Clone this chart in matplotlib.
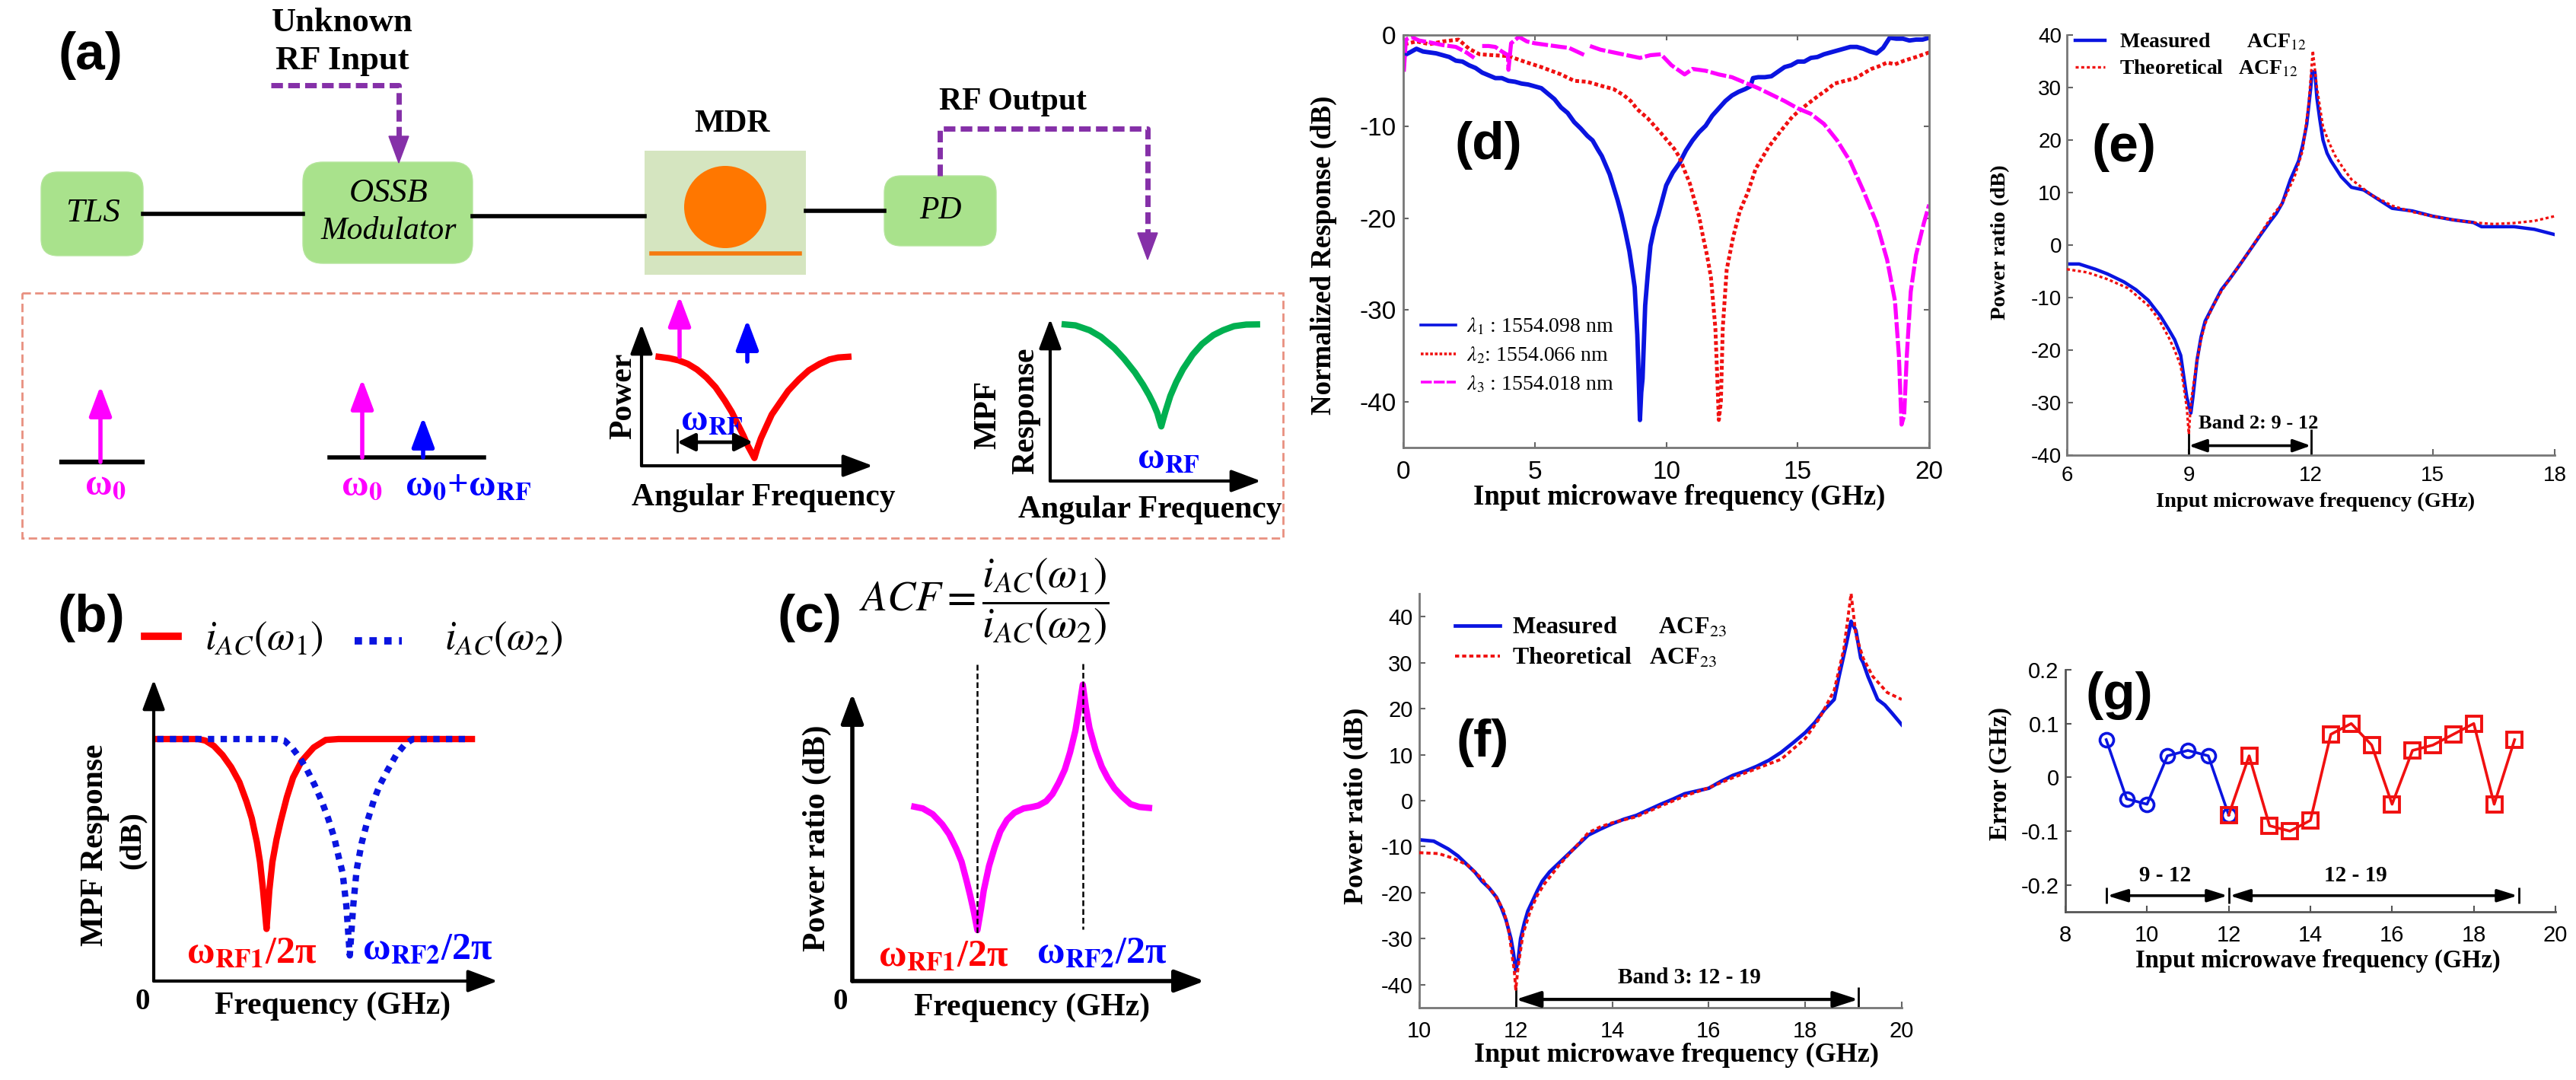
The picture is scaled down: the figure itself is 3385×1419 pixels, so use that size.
#!/usr/bin/python3
import numpy as np
import matplotlib
matplotlib.use('Agg')
import matplotlib.pyplot as plt
from matplotlib.patches import FancyBboxPatch, FancyArrowPatch, Rectangle, Circle, Polygon

plt.rcParams['axes.unicode_minus'] = False
plt.rcParams['mathtext.fontset'] = 'stix'
plt.rcParams['font.family'] = ['Liberation Serif', 'DejaVu Sans']

W, H = 3385, 1419
SANS = 'Liberation Sans'
SERIF = 'Liberation Serif'

# (d) normalized response
d1_x = [0.05, 0.25, 0.5, 0.75, 1, 1.25, 1.5, 1.75, 2, 2.25, 2.5, 2.75, 3, 3.25, 3.5, 3.75, 4, 4.25, 4.5, 4.75, 5, 5.25, 5.5, 5.75, 6, 6.25, 6.5, 6.75, 7, 7.2, 7.4, 7.55, 7.7, 7.85, 8, 8.15, 8.3, 8.45, 8.6, 8.7, 8.8, 8.9, 8.95, 9.0, 9.05, 9.1, 9.2, 9.3, 9.4, 9.55, 9.7, 9.85, 10, 10.25, 10.5, 10.75, 11, 11.25, 11.5, 11.75, 12, 12.25, 12.5, 12.75, 13, 13.2, 13.3, 13.5, 13.75, 14, 14.25, 14.5, 14.75, 15, 15.25, 15.5, 15.75, 16, 16.25, 16.5, 16.75, 17, 17.25, 17.5, 17.75, 18, 18.25, 18.5, 18.75, 19, 19.25, 19.5, 19.75, 20]
d1_y = [-2.2, -1.9, -1.5, -1.8, -1.9, -2.0, -2.2, -2.4, -2.8, -2.9, -3.3, -3.6, -4.1, -4.4, -4.7, -4.7, -5.0, -5.1, -5.3, -5.4, -5.6, -5.8, -6.4, -7.0, -7.9, -8.5, -9.5, -10.2, -11, -11.5, -12.5, -13.2, -14.2, -15.2, -16.6, -18, -19.6, -21.5, -23.6, -25.5, -27.5, -32.7, -37, -42, -39, -37.5, -29.5, -26, -23, -21, -19.6, -18, -16.4, -15, -14, -12.6, -11.5, -10.6, -9.9, -8.8, -8, -7.2, -6.6, -6.2, -5.9, -5.6, -4.7, -4.6, -4.6, -4.5, -4.0, -3.5, -3.3, -2.9, -2.9, -2.5, -2.4, -2.1, -1.9, -1.7, -1.5, -1.3, -1.3, -1.5, -1.8, -2, -1.4, -0.3, -0.4, -0.4, -0.6, -0.5, -0.5, -0.3]
d2_x = [0.05, 0.5, 1, 1.5, 2.1, 2.5, 2.9, 3.4, 4, 4.6, 5.25, 6, 6.5, 7, 7.6, 8, 8.4, 8.65, 8.9, 9.3, 9.8, 10.3, 10.5, 10.7, 10.9, 11.05, 11.25, 11.4, 11.55, 11.7, 11.87, 11.95, 12, 12.08, 12.15, 12.3, 12.55, 12.8, 13.1, 13.4, 13.9, 14.35, 14.8, 15.3, 15.8, 16.1, 16.4, 16.8, 17.2, 17.5, 17.8, 18.1, 18.4, 18.7, 19.05, 19.5, 20]
d2_y = [-1, -0.7, -1.0, -0.7, -0.5, -1.5, -2.1, -2.2, -2.3, -2.9, -3.5, -4.3, -5, -5.1, -5.6, -5.9, -6.6, -7.2, -8.1, -9.1, -10.7, -12.4, -13.3, -14.8, -16.2, -17.8, -19.8, -22, -24, -26.4, -32, -38, -42, -40, -32, -25.6, -22, -19.2, -17.2, -14.6, -12.2, -10.5, -8.9, -7.7, -6.6, -6, -5.3, -5.0, -4.7, -4.2, -3.7, -3.4, -3, -3.2, -2.8, -2.4, -1.9]
d3_x = [0.02, 0.1, 0.3, 0.6, 1, 1.5, 2, 2.4, 2.7, 2.9, 3, 3.25, 3.5, 3.75, 3.98, 4.0, 4.1, 4.4, 4.7, 5, 5.5, 6, 6.3, 6.6, 6.9, 7.0, 7.1, 7.5, 8, 8.5, 9, 9.4, 9.8, 10.2, 10.7, 11, 11.5, 12, 12.5, 13, 13.5, 14, 14.5, 15, 15.5, 16, 16.5, 17, 17.5, 18, 18.4, 18.7, 18.85, 18.95, 19.05, 19.15, 19.3, 19.5, 19.8, 20]
d3_y = [-4, -0.5, -0.2, -0.6, -0.8, -1.1, -1.3, -1.9, -2.5, np.nan, -1.2, -1.2, -1.3, -1.8, -2.2, -3.8, -0.9, -0.2, -0.7, -0.9, -1.1, -1.3, -1.4, -1.8, -2.2, np.nan, -1.2, -1.6, -1.9, -2.2, -2.5, -2.2, -2.1, -3.3, -4.3, -3.7, -3.9, -4.3, -4.6, -5.2, -5.8, -6.5, -7.2, -8, -8.6, -9.7, -11.5, -13.8, -17, -20.5, -24.5, -29, -35, -42.5, -41.5, -35, -28, -24, -20.5, -18.5]
d_names = [r'$\lambda_1$ : 1554.098 nm', r'$\lambda_2$: 1554.066 nm', r'$\lambda_3$ : 1554.018 nm']

# (e) ACF12
e_mx = [6, 6.3, 6.7, 7, 7.4, 7.7, 8, 8.3, 8.5, 8.65, 8.8, 8.95, 9.05, 9.1, 9.2, 9.3, 9.4, 9.6, 9.8, 10, 10.25, 10.5, 10.75, 11, 11.15, 11.3, 11.5, 11.7, 11.8, 11.9, 12.0, 12.03, 12.1, 12.15, 12.22, 12.3, 12.4, 12.5, 12.75, 13, 13.3, 13.6, 14, 14.5, 15, 15.5, 16, 16.2, 17, 17.5, 18]
e_my = [-3.6, -3.6, -4.6, -5.5, -7, -8.5, -10.5, -13.5, -16, -18, -21, -29, -32, -29, -22, -17.5, -14.5, -11.5, -8.5, -6.5, -3.8, -1, 1.8, 4.5, 6, 8, 12.5, 16, 19, 23, 30, 33, 33, 28, 24, 20, 17.5, 16, 13, 11, 10.5, 9, 7, 6.5, 5.5, 4.8, 4.3, 3.5, 3.5, 3, 2]
e_tx = [6, 6.5, 7, 7.5, 8, 8.25, 8.5, 8.65, 8.8, 8.95, 9, 9.05, 9.2, 9.3, 9.4, 9.6, 9.8, 10, 10.5, 11, 11.3, 11.6, 11.8, 11.95, 12.05, 12.15, 12.3, 12.45, 12.6, 12.8, 13, 13.5, 14, 14.5, 15, 15.5, 16, 16.5, 17, 17.5, 18]
e_ty = [-4.6, -5.2, -6.5, -8.2, -11.5, -14, -17.5, -20, -23, -31, -36, -30, -22, -18, -15, -11.5, -8.8, -6.5, -1, 5, 8, 13, 18, 27, 37, 30, 22.5, 19.5, 17, 14.6, 12.5, 9.5, 7.5, 6.3, 5.5, 4.8, 4.3, 4, 4.2, 4.6, 5.5]

# (f) ACF23
f_mx = [10, 10.3, 10.6, 10.8, 11, 11.15, 11.3, 11.45, 11.6, 11.7, 11.8, 11.9, 11.95, 12, 12.05, 12.1, 12.18, 12.25, 12.45, 12.55, 12.7, 13, 13.25, 13.5, 13.75, 14, 14.25, 14.5, 14.75, 15, 15.25, 15.5, 15.75, 16, 16.25, 16.5, 16.75, 17, 17.25, 17.5, 17.75, 18, 18.2, 18.4, 18.6, 18.7, 18.85, 18.95, 19.05, 19.15, 19.2, 19.3, 19.5, 19.65, 19.8, 20]
f_my = [-8.5, -8.8, -10.5, -12, -14, -15.5, -17.5, -19, -21, -23.2, -26, -30, -33, -37, -34.5, -30, -26.5, -24, -19.5, -17.5, -15.5, -12.5, -10, -7.5, -6.2, -5, -4, -3.2, -2, -0.8, 0.3, 1.5, 2.1, 2.7, 4.2, 5.5, 6.4, 7.5, 8.8, 10.5, 12.6, 14.8, 17, 19.8, 22, 27, 34, 39, 37, 31, 30, 27, 22, 20.8, 19, 16.5]
f_tx = [10, 10.4, 10.7, 11, 11.3, 11.6, 11.75, 11.85, 11.97, 12.0, 12.05, 12.15, 12.3, 12.45, 12.6, 12.9, 13.2, 13.5, 13.75, 14, 14.5, 15, 15.5, 16, 16.5, 17, 17.5, 18, 18.3, 18.6, 18.8, 18.95, 19.05, 19.2, 19.4, 19.7, 20]
f_ty = [-11.3, -11.5, -12.5, -14, -17, -21, -24, -28, -37, -41, -36, -29, -24, -20.5, -18, -14, -10.5, -7, -5.7, -4.8, -3.5, -1.2, 1, 2.8, 5, 7, 9, 13.5, 18, 24, 33, 45, 36, 31, 27, 23.5, 22]

# (g) error
g_x1 = [9, 9.5, 10, 10.5, 11, 11.5, 12]
g_y1 = [0.07, -0.04, -0.05, 0.04, 0.05, 0.04, -0.07]
g_x2 = [12, 12.5, 13, 13.5, 14, 14.5, 15, 15.5, 16, 16.5, 17, 17.5, 18, 18.5, 19]
g_y2 = [-0.07, 0.04, -0.09, -0.1, -0.08, 0.08, 0.1, 0.06, -0.05, 0.05, 0.06, 0.08, 0.1, -0.05, 0.07]
g_ticks = [-0.2, -0.1, 0, 0.1, 0.2]
g_ticklabels = ['-0.2', '-0.1', '0', '0.1', '0.2']

# sketches, arbitrary units on a 0-10 scale
b_red_x = [0, 1.29, 1.5, 1.75, 2, 2.25, 2.49, 2.7, 2.85, 3, 3.09, 3.18, 3.28, 3.36, 3.45, 3.57, 3.69, 3.87, 4.05, 4.3, 4.65, 5, 5.37, 9.25]
b_red_y = [8.03, 8.03, 7.98, 7.8, 7.5, 7.1, 6.6, 5.95, 5.4, 4.6, 3.95, 3, 1.73, 3, 3.95, 4.7, 5.3, 6.1, 6.75, 7.3, 7.75, 8, 8.03, 8.03]
b_blue_x = [0.1, 3.57, 3.8, 4.05, 4.25, 4.46, 4.68, 4.89, 5.07, 5.25, 5.38, 5.49, 5.6, 5.7, 5.8, 5.9, 6.05, 6.21, 6.4, 6.57, 6.8, 7.05, 7.3, 7.53, 9.2]
b_blue_y = [8.03, 8.03, 7.98, 7.7, 7.4, 7, 6.5, 5.95, 5.4, 4.75, 4.1, 3.6, 2.5, 0.85, 2.5, 3.7, 4.6, 5.3, 6, 6.5, 7, 7.5, 7.85, 8.03, 8.03]
c_x = [1.76, 2, 2.28, 2.55, 2.75, 2.95, 3.1, 3.25, 3.34, 3.45, 3.55, 3.65, 3.73, 3.88, 4.04, 4.2, 4.39, 4.6, 4.86, 5.1, 5.28, 5.5, 5.68, 5.86, 6.03, 6.18, 6.33, 6.44, 6.54, 6.63, 6.73, 6.9, 7.08, 7.25, 7.44, 7.65, 7.9, 8.15, 8.42]
c_y = [6.06, 6.0, 5.8, 5.45, 5.1, 4.6, 4.15, 3.45, 3, 2.4, 1.77, 2.5, 3.15, 4, 4.65, 5.2, 5.6, 5.85, 6.0, 6.05, 6.1, 6.25, 6.5, 6.9, 7.35, 7.95, 8.7, 9.5, 10.3, 9.5, 8.8, 8.05, 7.45, 7.05, 6.7, 6.42, 6.15, 6.05, 6.02]
pw_x = [0.74, 1.2, 1.6, 2, 2.4, 2.8, 3.2, 3.6, 3.9, 4.2, 4.4, 4.6, 4.75, 4.88, 5.0, 5.16, 5.4, 5.63, 6, 6.34, 6.8, 7.23, 7.7, 8.12, 8.5, 8.94]
pw_y = [7.7, 7.6, 7.45, 7.2, 6.8, 6.25, 5.55, 4.6, 3.8, 2.8, 2.15, 1.4, 0.95, 0.55, 1.2, 1.94, 2.8, 3.62, 4.5, 5.3, 6.1, 6.74, 7.2, 7.51, 7.65, 7.7]
mpf_x = [0.69, 1.2, 1.87, 2.4, 3.04, 3.5, 4.02, 4.4, 4.69, 4.9, 5.08, 5.18, 5.27, 5.36, 5.47, 5.7, 5.98, 6.3, 6.76, 7.2, 7.74, 8.2, 8.72, 9.3, 9.81]
mpf_y = [9.66, 9.6, 9.3, 8.9, 8.2, 7.55, 6.7, 5.95, 5.3, 4.75, 4.2, 3.75, 3.37, 3.8, 4.3, 5.25, 6.1, 6.9, 7.8, 8.45, 9.0, 9.3, 9.55, 9.65, 9.66]

GREEN = '#A9E28C'
PURPLE = '#8530A8'
MAGENTA = '#FF00FF'
BLUE = '#0A14E0'
RED = '#F01010'


def axes_px(l, t, r, b):
    return fig.add_axes([l / W, 1 - b / H, (r - l) / W, (b - t) / H])


def to_axes(ax, x, y):
    p = ax.get_position()
    return (x / W - p.x0) / p.width, ((1 - y / H) - p.y0) / p.height


def labels(ax, xlabel, xpos, ylabel, ypos, size, ysize=None):
    ax.set_xlabel(xlabel, fontsize=size, fontweight='bold', family=SERIF, va='center', ha='center')
    ax.xaxis.set_label_coords(*to_axes(ax, *xpos))
    ax.set_ylabel(ylabel, fontsize=ysize or size, fontweight='bold', family=SERIF, va='center', ha='center')
    ax.yaxis.set_label_coords(*to_axes(ax, *ypos))


def arrow(a, b, color='black', lw=3, hl=24, hw=9, style='-|>', z=5):
    ov.add_patch(FancyArrowPatch(a, b, arrowstyle='%s,head_length=%g,head_width=%g' % (style, hl, hw),
                                 mutation_scale=1, color=color, lw=lw, shrinkA=0, shrinkB=0, zorder=z))


def txt(x, y, s, size, color='black', weight='bold', style='normal', rot=0, family=SERIF):
    ov.text(x, y, s, fontsize=size, color=color, fontweight=weight, fontstyle=style, rotation=rot,
            family=family, ha='center', va='center')


def box(l, t, r, b, pad=22):
    ov.add_patch(FancyBboxPatch((l + pad, t + pad), r - l - 2 * pad, b - t - 2 * pad,
                                boxstyle='round,pad=%d,rounding_size=%d' % (pad, pad), fc=GREEN, ec='#B5E59C', lw=1))


def purple_path(xs, ys):
    ov.plot(xs, ys, color=PURPLE, lw=5, linestyle=(0, (2.2, 1.0)), dash_capstyle='butt', solid_joinstyle='miter')


def triangle(x, top, tip, half=13):
    ov.add_patch(Polygon([(x - half, top), (x + half, top), (x, tip)], color=PURPLE, zorder=4))


def sketch_axes(ax, lw=3.0, tip=(24, 9)):
    ax.set_xlim(0, 10)
    ax.set_ylim(0, 10)
    ax.axis('off')
    style = '-|>,head_length=%g,head_width=%g' % tip
    ax.annotate('', xy=(1, 0), xytext=(0, 0), xycoords='axes fraction',
                arrowprops=dict(arrowstyle=style, color='black', lw=lw, shrinkA=0, shrinkB=0, mutation_scale=1))
    ax.annotate('', xy=(0, 1), xytext=(0, 0), xycoords='axes fraction',
                arrowprops=dict(arrowstyle=style, color='black', lw=lw, shrinkA=0, shrinkB=0, mutation_scale=1))


fig = plt.figure(figsize=(W / 100, H / 100), dpi=100)
ov = fig.add_axes([0, 0, 1, 1], zorder=10)
ov.set_xlim(0, W)
ov.set_ylim(H, 0)
ov.axis('off')
ov.patch.set_alpha(0)

# (d)
ax = axes_px(1844, 46, 2535, 588)
ax.plot(d1_x, d1_y, color=BLUE, lw=4.2, label=d_names[0])
ax.plot(d2_x, d2_y, color=RED, lw=3.6, linestyle=(0, (1, 0.7)), label=d_names[1])
ax.plot(d3_x, d3_y, color=MAGENTA, lw=3.8, linestyle=(0, (4, 0.7)), label=d_names[2])
ax.set_xlim(0, 20)
ax.set_ylim(-45, 0)
ax.set_xticks([0, 5, 10, 15, 20])
ax.set_yticks([0, -10, -20, -30, -40])
ax.tick_params(direction='in', top=True, right=True, length=5, width=1.5, color='#666666', labelsize=24, pad=12)
ax.tick_params(axis='y', pad=7)
for s in ax.spines.values():
    s.set_color('#777777')
    s.set_linewidth(2)
for t in ax.get_xticklabels() + ax.get_yticklabels():
    t.set_family(SANS)
leg = ax.legend(loc='lower left', bbox_to_anchor=to_axes(ax, 1867, 518), borderpad=0, borderaxespad=0, frameon=False,
                handlelength=1.65, handletextpad=0.5, labelspacing=0.4, prop={'family': SERIF, 'size': 20})
for h in leg.get_lines():
    h.set_linewidth(2.6)
labels(ax, 'Input microwave frequency (GHz)', (2207, 653), 'Normalized Response (dB)', (1739, 335), 26.5)

# (e)
ax = axes_px(2716, 46, 3357, 598)
ax.plot(e_tx, e_ty, color=RED, lw=2.4, linestyle=(0, (1.2, 1)), zorder=3, label='Theoretical   ACF$_{12}$')
ax.plot(e_mx, e_my, color=BLUE, lw=3.2, zorder=2, label='Measured       ACF$_{12}$')
ax.set_xlim(6, 18)
ax.set_ylim(-40, 40)
ax.set_xticks([6, 9, 12, 15, 18])
ax.set_yticks([-40, -30, -20, -10, 0, 10, 20, 30, 40])
ax.tick_params(direction='in', length=6, width=1.5, color='#666666', labelsize=20, pad=10)
ax.tick_params(axis='y', pad=5)
for t in ax.get_xticklabels() + ax.get_yticklabels():
    t.set_family(SANS)
ax.spines[['top', 'right']].set_visible(False)
ax.spines[['left', 'bottom']].set_color('#777777')
ax.spines[['left', 'bottom']].set_linewidth(2)
h, l = ax.get_legend_handles_labels()
ax.legend(h[::-1], l[::-1], loc='upper left', bbox_to_anchor=to_axes(ax, 2727, 42), borderpad=0, borderaxespad=0,
          frameon=False, handlelength=1.4, handletextpad=0.7, labelspacing=0.3,
          prop={'family': SERIF, 'weight': 'bold', 'size': 20})
ax.vlines([9, 12], -40, -35, color='black', lw=2)
ax.annotate('', xy=(12, -38.2), xytext=(9, -38.2), arrowprops=dict(arrowstyle='<|-|>,head_length=14,head_width=5',
            color='black', lw=2.6, shrinkA=0, shrinkB=0, mutation_scale=1))
ax.text(10.72, -34, 'Band 2: 9 - 12', fontsize=19, fontweight='bold', family=SERIF, ha='center', va='center')
labels(ax, 'Input microwave frequency (GHz)', (3043, 659), 'Power ratio (dB)', (2629, 318), 20.5)

# (f)
ax = axes_px(1865, 780, 2499, 1324)
ax.plot(f_mx, f_my, color=BLUE, lw=3.4, zorder=2, label='Measured       ACF$_{23}$')
ax.plot(f_tx, f_ty, color=RED, lw=2.8, linestyle=(0, (1.4, 1)), zorder=3, label='Theoretical   ACF$_{23}$')
ax.set_xlim(10, 20)
ax.set_ylim(-45, 45)
ax.set_xticks([10, 12, 14, 16, 18, 20])
ax.set_yticks([-40, -30, -20, -10, 0, 10, 20, 30, 40])
ax.tick_params(direction='in', length=6, width=1.5, color='#666666', labelsize=21, pad=12)
ax.tick_params(axis='y', pad=6)
for t in ax.get_xticklabels() + ax.get_yticklabels():
    t.set_family(SANS)
ax.spines[['top', 'right']].set_visible(False)
ax.spines[['left', 'bottom']].set_color('#777777')
ax.spines[['left', 'bottom']].set_linewidth(2)
ax.legend(loc='upper left', bbox_to_anchor=to_axes(ax, 1912, 810), borderpad=0, borderaxespad=0, frameon=False,
          handlelength=1.85, handletextpad=0.5, labelspacing=0.3, prop={'family': SERIF, 'weight': 'bold', 'size': 23})
ax.vlines(12, -45, -40.5, color='black', lw=2)
ax.vlines(19.1, -45, -40.5, color='black', lw=2)
ax.annotate('', xy=(19.1, -43.2), xytext=(12, -43.2), arrowprops=dict(arrowstyle='<|-|>,head_length=20,head_width=6.5',
            color='black', lw=3, shrinkA=0, shrinkB=0, mutation_scale=1))
ax.text(15.6, -38.5, 'Band 3: 12 - 19', fontsize=21, fontweight='bold', family=SERIF, ha='center', va='center')
labels(ax, 'Input microwave frequency (GHz)', (2203, 1386), 'Power ratio (dB)', (1782, 1059), 26)

# (g)
ax = axes_px(2714, 880, 3358, 1198)
ax.plot(g_x1, g_y1, color=BLUE, lw=2.6, marker='o', ms=13, mfc='none', mew=2.6)
ax.plot(g_x2, g_y2, color=RED, lw=2.6, marker='s', ms=14, mfc='none', mew=2.8)
ax.set_xlim(8, 20)
ax.set_ylim(-0.25, 0.2)
ax.set_xticks([8, 10, 12, 14, 16, 18, 20])
ax.set_yticks(g_ticks)
ax.set_yticklabels(g_ticklabels)
ax.tick_params(direction='in', length=6, width=1.5, color='#555555', labelsize=21, pad=12)
ax.tick_params(axis='y', pad=6)
for t in ax.get_xticklabels() + ax.get_yticklabels():
    t.set_family(SANS)
ax.spines[['top', 'right']].set_visible(False)
ax.spines[['left', 'bottom']].set_color('#555555')
ax.spines[['left', 'bottom']].set_linewidth(2)
ax.vlines([9, 12, 19.1], -0.235, -0.205, color='black', lw=2)
for a, b in [(9, 12), (12, 19.1)]:
    ax.annotate('', xy=(b, -0.22), xytext=(a, -0.22), arrowprops=dict(arrowstyle='<|-|>,head_length=16,head_width=5',
                color='black', lw=2.6, shrinkA=1, shrinkB=1, mutation_scale=1))
ax.text(10.45, -0.183, '9 - 12', fontsize=21, fontweight='bold', family=SERIF, ha='center', va='center')
ax.text(15.1, -0.183, '12 - 19', fontsize=21, fontweight='bold', family=SERIF, ha='center', va='center')
labels(ax, 'Input microwave frequency (GHz)', (3046, 1262), 'Error (GHz)', (2629, 1017), 23.5)

# panel letters
for s, x, y in [('(a)', 119, 73), ('(b)', 120, 812), ('(c)', 1064, 812), ('(d)', 1956, 191), ('(e)', 2791, 194), ('(f)', 1948, 976), ('(g)', 2785, 914)]:
    txt(x, y, s, 50, family=SANS)

# (a) set-up
ov.plot([188, 398], [281, 281], color='black', lw=4)
ov.plot([621, 847], [284, 284], color='black', lw=4)
ov.plot([1059, 1162], [277, 277], color='black', lw=4)
box(54, 226, 188, 336)
box(398, 213, 621, 346, 26)
box(1162, 231, 1309, 323)
ov.add_patch(Rectangle((847, 198), 212, 163, fc='#D5E5C0', ec='none'))
ov.add_patch(Circle((953, 272), 54, fc='#FF7700', ec='none'))
ov.plot([856, 1051], [333, 333], color='#F57A10', lw=4)
txt(122, 280, 'TLS', 32, weight='normal', style='italic')
txt(511, 254, 'OSSB', 32, weight='normal', style='italic')
txt(511, 304, 'Modulator', 30, weight='normal', style='italic')
txt(1236, 277, 'PD', 30, weight='normal', style='italic')
txt(450, 30, 'Unknown', 32)
txt(450, 80, 'RF Input', 32)
txt(962, 163, 'MDR', 30)
txt(1331, 134, 'RF Output', 30)
purple_path([356, 524, 524], [112, 112, 180])
triangle(524, 179, 214)
purple_path([1235, 1235, 1508, 1508], [231, 169, 169, 306])
triangle(1508, 306, 341)
ov.add_patch(Rectangle((29, 385), 1657, 322, fc='none', ec='#E89080', lw=2, linestyle=(0, (4, 2))))

ov.plot([81, 187], [607, 607], color='black', lw=4.5)
arrow((132, 607), (132, 507), MAGENTA, 4)
txt(138, 637, r'ω$_{\mathbf{0}}$', 35, MAGENTA)
ov.plot([433, 636], [601, 601], color='black', lw=4)
arrow((476, 601), (476, 498), MAGENTA, 4)
arrow((556, 601), (556, 548), 'blue', 4)
txt(475, 638, r'ω$_{\mathbf{0}}$', 35, MAGENTA)
txt(615, 638, r'ω$_{\mathbf{0}}$+ω$_{\mathbf{RF}}$', 35, 'blue')

ax = axes_px(843, 426, 1147, 612)
sketch_axes(ax)
ax.plot(pw_x, pw_y, color='red', lw=6, clip_on=False)
arrow((893, 469), (893, 389), MAGENTA, 4)
arrow((982, 475), (982, 420), 'blue', 4)
arrow((890, 581), (989, 581), 'black', 3.4, 14, 7, '<|-|>')
ov.plot([890, 890], [565, 594], color='black', lw=2)
txt(935, 553, r'ω$_{\mathbf{RF}}$', 35, 'blue')
txt(819, 520, 'Power', 30, rot=90)
txt(1003, 654, 'Angular Frequency', 30)

ax = axes_px(1380, 419, 1657, 632)
sketch_axes(ax)
ax.plot(mpf_x, mpf_y, color='#00B050', lw=6, clip_on=False)
txt(1535, 603, r'ω$_{\mathbf{RF}}$', 35, 'blue')
txt(1298, 545, 'MPF', 30, rot=90)
txt(1348, 540, 'Response', 30, rot=90)
txt(1511, 670, 'Angular Frequency', 30)

# (b)
ax = axes_px(202, 893, 654, 1289)
sketch_axes(ax)
ax.plot(b_red_x, b_red_y, color='red', lw=6)
ax.plot(b_blue_x, b_blue_y, color=BLUE, lw=6, linestyle=(0, (1, 1)))
ov.plot([190, 234], [836, 836], color='red', lw=7)
ov.plot([466, 528], [842, 842], color=BLUE, lw=7, linestyle=(0, (1, 1)))
txt(347, 840, r'$i_{AC}(\omega_1)$', 38, weight='normal')
txt(662, 840, r'$i_{AC}(\omega_2)$', 38, weight='normal')
txt(331, 1253, r'ω$_{\mathbf{RF1}}$/2π', 36, 'red')
txt(562, 1248, r'ω$_{\mathbf{RF2}}$/2π', 36, 'blue')
txt(187, 1316, '0', 28)
txt(437, 1322, 'Frequency (GHz)', 30)
txt(125, 1110, 'MPF Response', 30, rot=90)
txt(174, 1104, '(dB)', 29, rot=90)

# (c)
ax = axes_px(1120, 911, 1583, 1289)
sketch_axes(ax, lw=4)
ax.plot(c_x, c_y, color=MAGENTA, lw=6, clip_on=False)
ov.plot([1284, 1284], [873, 1227], color='black', lw=1.8, linestyle=(0, (3, 1.6)))
ov.plot([1423, 1423], [872, 1221], color='black', lw=1.8, linestyle=(0, (3, 1.6)))
txt(1293, 790, r'$ACF=\dfrac{i_{AC}(\omega_1)}{i_{AC}(\omega_2)}$', 40, weight='normal')
txt(1240, 1257, r'ω$_{\mathbf{RF1}}$/2π', 36, 'red')
txt(1448, 1253, r'ω$_{\mathbf{RF2}}$/2π', 36, 'blue')
txt(1104, 1317, '0', 28)
txt(1356, 1324, 'Frequency (GHz)', 30)
txt(1074, 1101, 'Power ratio (dB)', 30, rot=90)

fig.savefig('out.png', dpi=100)
